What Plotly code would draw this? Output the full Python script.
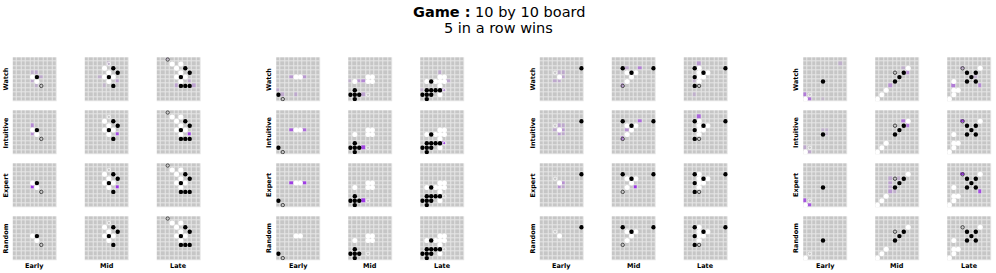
import plotly.graph_objects as go

# ---------------- data ----------------
ROW_NAMES = ["Watch", "Intuitive", "Expert", "Random"]
STAGE_NAMES = ["Early", "Mid", "Late"]
TITLE_LINE1 = "<b>Game :</b> 10 by 10 board"
TITLE_LINE2 = "5 in a row wins"

# stones per stage (row, col); stages = Early, Mid, Late
G1_BLACK = [[(4, 5)],
            [(2, 6), (3, 7), (4, 5), (6, 6)],
            [(2, 6), (3, 7), (4, 5), (6, 5), (6, 6), (6, 7)]]
G1_WHITE = [[(4, 4), (5, 5)],
            [(2, 4), (3, 5), (4, 4), (4, 6), (5, 5)],
            [(1, 3), (1, 5), (2, 4), (3, 5), (4, 4), (4, 6), (5, 5)]]
G1_NEXT = [(6, 6, "dark"), (1, 5, "light"), (0, 2, "dark")]
G1_PURPLE = [
    [[(3, 5, .2), (4, 6, .2), (5, 4, .2), (6, 5, .15), (3, 4, .15)],
     [(5, 7, .25), (1, 5, .15), (4, 3, .15), (6, 4, .12)],
     [(6, 4, .25), (6, 8, .25), (5, 7, .2), (0, 2, .1)]],
    [[(3, 4, .4), (5, 4, .35)], [(5, 7, .8)], [(5, 7, .9)]],
    [[(5, 4, .95)], [(5, 7, .95)], []],
    [[], [], []],
]

G2_BLACK = [[(8, 0)],
            [(7, 1), (8, 0), (8, 1), (8, 2), (9, 1)],
            [(5, 2), (7, 1), (7, 2), (7, 3), (7, 4), (8, 0), (8, 1), (8, 2), (9, 1)]]
G2_WHITE = [[(4, 4), (4, 5)],
            [(4, 4), (4, 5), (5, 4), (5, 5), (5, 1)],
            [(4, 4), (4, 5), (5, 3), (5, 4), (5, 5), (5, 1), (6, 4), (8, 4)]]
G2_NEXT = [(9, 1, "dark"), (8, 4, "light"), (7, 5, "light")]
G2_PURPLE = [
    [[(4, 3, .3), (4, 6, .3), (7, 0, .2), (8, 1, .2), (8, 4, .2)],
     [(5, 2, .3), (5, 3, .4), (8, 3, .25), (5, 0, .15)],
     [(7, 5, .4), (3, 4, .2), (5, 6, .2), (7, 0, .15)]],
    [[(4, 3, .7), (4, 6, .6)], [(8, 3, .85)], [(7, 5, .85)]],
    [[(4, 3, .9), (4, 6, .9)], [(8, 3, .95)], []],
    [[], [], []],
]

G3_BLACK = [[(2, 9)],
            [(2, 2), (2, 9), (3, 4)],
            [(2, 2), (2, 9), (3, 4), (4, 2), (6, 2)]]
G3_WHITE = [[(4, 4)],
            [(3, 3), (3, 5), (4, 4), (5, 3)],
            [(2, 3), (3, 3), (3, 5), (4, 3), (4, 4), (5, 3)]]
G3_NEXT = [(3, 3, "light"), (6, 2, "dark"), (6, 3, "dark")]
G3_PURPLE = [
    [[(3, 5, .2), (4, 5, .2), (5, 3, .2), (5, 4, .2), (3, 4, .15)],
     [(2, 6, .45), (2, 3, .2), (6, 2, .3)],
     [(1, 3, .3), (5, 2, .15), (8, 2, .15)]],
    [[(3, 4, .25), (4, 5, .3), (5, 4, .3), (5, 5, .2), (3, 5, .2), (4, 3, .2)],
     [(2, 6, .6), (4, 3, .35), (6, 2, .5)],
     [(1, 3, .65)]],
    [[(4, 5, .35), (5, 4, .35), (5, 5, .2)], [(5, 5, .95)], []],
    [[], [], []],
]

G4_BLACK = [[(5, 4)],
            [(3, 6), (4, 5), (5, 4)],
            [(3, 4), (3, 6), (4, 5), (5, 4), (5, 6)]]
G4_WHITE = [[(9, 0)],
            [(2, 7), (7, 2), (8, 1), (9, 0)],
            [(2, 7), (5, 1), (7, 1), (7, 2), (8, 1), (9, 0)]]
G4_NEXT = [(8, 1, "light"), (3, 4, "dark"), (2, 3, "dark")]
G4_PURPLE = [
    [[(8, 0, .5), (9, 1, .55), (1, 8, .15), (9, 4, .1)],
     [(3, 7, .35), (6, 3, .35), (2, 6, .15)],
     [(6, 1, .5), (6, 7, .4), (4, 6, .15), (2, 3, .2)]],
    [[(8, 0, .2), (9, 1, .2), (4, 4, .15), (4, 5, .15), (5, 5, .1)],
     [(2, 6, .55), (3, 7, .5)],
     [(2, 3, .9)]],
    [[(8, 0, .75), (9, 1, .75)],
     [(3, 3, .2), (4, 3, .25), (5, 3, .2), (6, 3, .3), (3, 5, .15), (6, 4, .15)],
     [(2, 3, 1.0), (6, 7, .8)]],
    [[], [], []],
]

GROUPS = [
    (G1_BLACK, G1_WHITE, G1_NEXT, G1_PURPLE),
    (G2_BLACK, G2_WHITE, G2_NEXT, G2_PURPLE),
    (G3_BLACK, G3_WHITE, G3_NEXT, G3_PURPLE),
    (G4_BLACK, G4_WHITE, G4_NEXT, G4_PURPLE),
]

# ---------------- layout geometry (pixels) ----------------
W, H = 996, 273
N = 10
BOARD = 44.0
GROUP_LEFT0, GROUP_STEP = 12.7, 263.5
COL_STEP = 72.0
ROW_TOP0, ROW_STEP = 57.3, 53.0

CELL_COLOR = "#c6c6c6"
GRID_COLOR = "#e6e6e6"
PURPLE = "#9a2fe6"
NEXT_COLORS = {"dark": "#474747", "light": "#f2f2f2"}

fig = go.Figure()
layout_axes = {}
annotations = []
shapes = []
k = 0
for g, (blacks, whites, nexts, purples) in enumerate(GROUPS):
    for r, row_name in enumerate(ROW_NAMES):
        top = ROW_TOP0 + r * ROW_STEP
        for s, stage in enumerate(STAGE_NAMES):
            k += 1
            left = GROUP_LEFT0 + g * GROUP_STEP + s * COL_STEP
            xa = "x" if k == 1 else f"x{k}"
            ya = "y" if k == 1 else f"y{k}"
            xname = "xaxis" if k == 1 else f"xaxis{k}"
            yname = "yaxis" if k == 1 else f"yaxis{k}"
            layout_axes[xname] = dict(domain=[left / W, (left + BOARD) / W], range=[-0.5, N - 0.5],
                                      anchor=ya, visible=False, fixedrange=True)
            layout_axes[yname] = dict(domain=[1 - (top + BOARD) / H, 1 - top / H], range=[N - 0.5, -0.5],
                                      anchor=xa, visible=False, fixedrange=True)
            shapes.append(dict(type="rect", xref=f"{xa} domain", yref=f"{ya} domain",
                               x0=0, x1=1, y0=0, y1=1, fillcolor=GRID_COLOR, line=dict(width=0),
                               layer="below"))
            z = [[0.0] * N for _ in range(N)]
            for (pr, pc, v) in purples[r][s]:
                z[pr][pc] = v
            fig.add_trace(go.Heatmap(z=z, x=list(range(N)), y=list(range(N)), xaxis=xa, yaxis=ya,
                                     zmin=0, zmax=1, colorscale=[[0, CELL_COLOR], [1, PURPLE]],
                                     showscale=False, xgap=1, ygap=1, hoverinfo="skip"))
            wl = whites[s]
            fig.add_trace(go.Scatter(x=[c for _, c in wl], y=[rr for rr, _ in wl], xaxis=xa, yaxis=ya,
                                     mode="markers", hoverinfo="skip",
                                     marker=dict(symbol="circle", size=5, color="white", line=dict(width=0))))
            bl = blacks[s]
            fig.add_trace(go.Scatter(x=[c for _, c in bl], y=[rr for rr, _ in bl], xaxis=xa, yaxis=ya,
                                     mode="markers", hoverinfo="skip",
                                     marker=dict(symbol="circle", size=4.4, color="black", line=dict(width=0))))
            nr, nc, kind = nexts[s]
            fig.add_trace(go.Scatter(x=[nc], y=[nr], xaxis=xa, yaxis=ya, mode="markers", hoverinfo="skip",
                                     marker=dict(symbol="circle-open", size=3.4,
                                                 line=dict(width=1, color=NEXT_COLORS[kind]),
                                                 color=NEXT_COLORS[kind])))
            if s == 0:
                annotations.append(dict(text=f"<b>{row_name}</b>", x=(left - 6.5) / W,
                                        y=1 - (top + BOARD / 2) / H, xref="paper", yref="paper",
                                        textangle=-90, showarrow=False, xanchor="center", yanchor="middle",
                                        font=dict(family="DejaVu Sans", size=6.5, color="black")))
            if r == len(ROW_NAMES) - 1:
                annotations.append(dict(text=f"<b>{stage}</b>", x=(left + BOARD / 2) / W,
                                        y=1 - 265.7 / H, xref="paper", yref="paper", showarrow=False,
                                        xanchor="center", yanchor="middle",
                                        font=dict(family="DejaVu Sans", size=6.5, color="black")))

annotations.append(dict(text=TITLE_LINE1, x=498.5 / W, y=1 - 12.5 / H, xref="paper", yref="paper",
                        showarrow=False, xanchor="center", yanchor="middle",
                        font=dict(family="DejaVu Sans", size=14.5, color="black")))
annotations.append(dict(text=TITLE_LINE2, x=498.5 / W, y=1 - 28.5 / H, xref="paper", yref="paper",
                        showarrow=False, xanchor="center", yanchor="middle",
                        font=dict(family="DejaVu Sans", size=14.5, color="black")))

fig.update_layout(width=W, height=H, margin=dict(l=0, r=0, t=0, b=0),
                  paper_bgcolor="white", plot_bgcolor="rgba(0,0,0,0)", showlegend=False,
                  hovermode=False, annotations=annotations, shapes=shapes, **layout_axes)
fig.write_html("out.html", config={"displayModeBar": False},
               post_script="document.body.style.margin='0px';document.body.style.padding='0px';")
